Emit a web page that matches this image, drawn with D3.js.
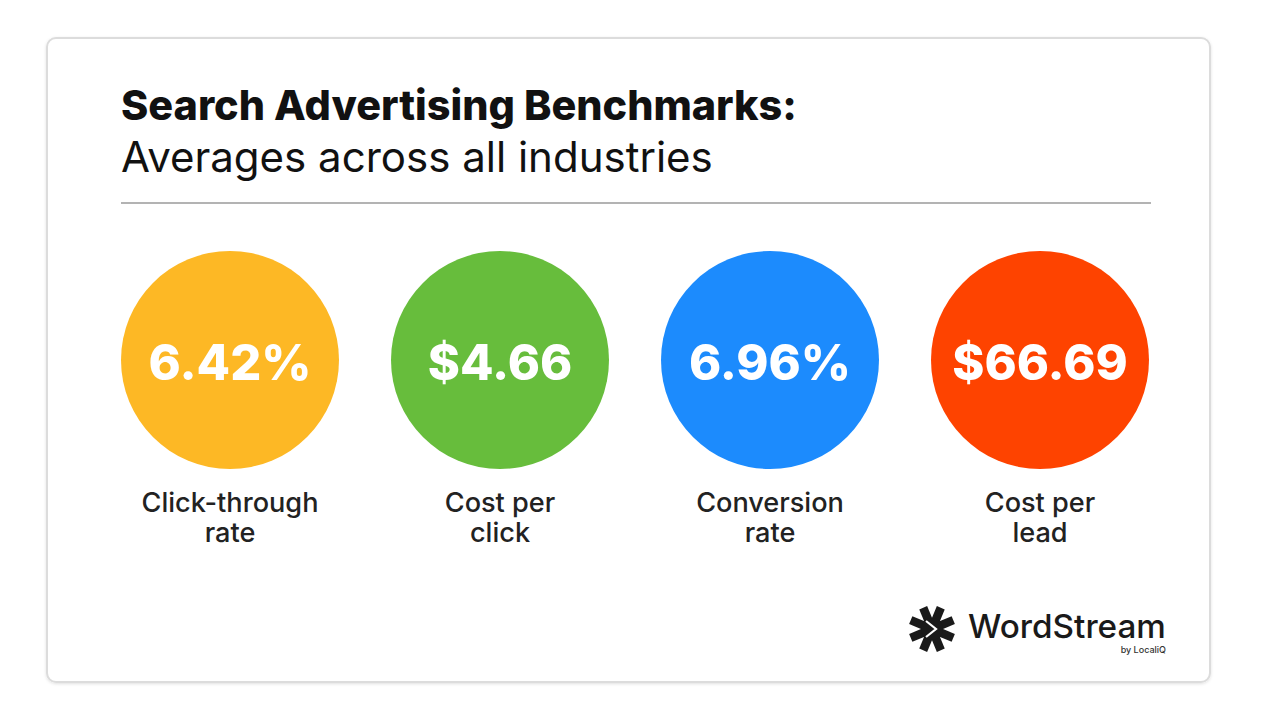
<!DOCTYPE html>
<html>
<meta charset="utf-8">
<head>
    <script src="https://d3js.org/d3.v7.min.js"></script>
</head>

<style>
  body { margin: 0; background: #fff; }
  svg text { font-family: Inter, "Noto Sans", sans-serif; }
  .title { font-weight: 800; fill: #111; }
  .subtitle { font-weight: 400; fill: #111; }
  .value { font-weight: 800; fill: #fff; text-anchor: middle; }
  .label { font-weight: 500; fill: #222; text-anchor: middle; }
</style>

<body>
<script>
    // chart data
    var metrics = ["Click-through rate", "Cost per click", "Conversion rate", "Cost per lead"];
    var labelLines = [["Click-through", "rate"], ["Cost per", "click"], ["Conversion", "rate"], ["Cost per", "lead"]];
    var values = [6.42, 4.66, 6.96, 66.69];
    var units = ["%", "$", "%", "$"];
    var colors = ["#FDB825", "#67BD3C", "#1C8BFD", "#FE4300"];

    var width = 1276, height = 715;

    var svg = d3.select("body").append("svg")
        .attr("width", width)
        .attr("height", height);

    var defs = svg.append("defs");
    var shadow = defs.append("filter").attr("id", "shadow")
        .attr("x", "-5%").attr("y", "-5%").attr("width", "110%").attr("height", "110%");
    shadow.append("feDropShadow")
        .attr("dx", 0).attr("dy", 1).attr("stdDeviation", 1.5)
        .attr("flood-color", "#000").attr("flood-opacity", 0.12);

    // card
    svg.append("rect")
        .attr("x", 47).attr("y", 38)
        .attr("width", 1163).attr("height", 644)
        .attr("rx", 9)
        .attr("fill", "#fff")
        .attr("stroke", "#dcdcdc")
        .attr("stroke-width", 2)
        .attr("filter", "url(#shadow)");

    // shrink/grow a text to a given width
    function fit(sel, w) {
        var size = parseFloat(sel.style("font-size"));
        var len = sel.node().getComputedTextLength();
        sel.style("font-size", (size * w / len) + "px");
    }

    var title = svg.append("text").attr("class", "title")
        .attr("x", 121).attr("y", 120)
        .style("font-size", "36px")
        .text("Search Advertising Benchmarks:");
    fit(title, 676);

    var subtitle = svg.append("text").attr("class", "subtitle")
        .attr("x", 121).attr("y", 172)
        .style("font-size", "36px")
        .text("Averages across all industries");
    fit(subtitle, 592);

    svg.append("line")
        .attr("x1", 121).attr("x2", 1151)
        .attr("y1", 203).attr("y2", 203)
        .attr("stroke", "#9a9a9a")
        .attr("stroke-width", 1.6);

    var x = d3.scalePoint()
        .domain(metrics)
        .range([230, 1040]);

    var r = 109, cy = 360;
    var fmt = d3.format(".2f");

    var items = svg.append("g").selectAll("g")
        .data(metrics)
        .enter().append("g")
        .attr("transform", function(d) { return "translate(" + x(d) + ",0)"; });

    items.append("circle")
        .attr("cy", cy)
        .attr("r", r)
        .attr("fill", function(d, i) { return colors[i]; });

    items.append("text")
        .attr("class", "value")
        .attr("y", cy + 20)
        .style("font-size", "52px")
        .text(function(d, i) {
            return units[i] == "$" ? "$" + fmt(values[i]) : fmt(values[i]) + "%";
        });

    items.selectAll(".label")
        .data(function(d, i) { return labelLines[i]; })
        .enter().append("text")
        .attr("class", "label")
        .attr("y", function(d, j) { return 512 + j * 30; })
        .style("font-size", "25px")
        .text(function(d) { return d; });

    // value text: match "6.42%" width to ~163px, use same size for all
    var first = items.select(".value").filter(function(d, i) { return i == 0; });
    fit(first, 163);
    var vsize = first.style("font-size");
    items.selectAll(".value").style("font-size", vsize);

    var firstLabel = items.selectAll(".label").filter(function(d) { return d == "Click-through"; });
    fit(firstLabel, 177);
    items.selectAll(".label").style("font-size", firstLabel.style("font-size"));

    // logo
    var logo = svg.append("g").attr("transform", "translate(932,629)");
    d3.range(8).forEach(function(k) {
        logo.append("line")
            .attr("x1", 0).attr("y1", 0)
            .attr("x2", 0).attr("y2", -23)
            .attr("stroke", "#1a1a1a")
            .attr("stroke-width", 8.5)
            .attr("stroke-linecap", "butt")
            .attr("transform", "rotate(" + (k * 45 + 22.5) + ")");
    });
    logo.append("circle").attr("r", 11).attr("fill", "#1a1a1a");
    logo.append("path")
        .attr("d", "M-6,-8 L4,0 L-6,8")
        .attr("fill", "none")
        .attr("stroke", "#fff")
        .attr("stroke-width", 2.2);

    var ws = svg.append("text")
        .attr("x", 968).attr("y", 638)
        .style("font-size", "31px")
        .style("font-weight", 500)
        .attr("fill", "#1a1a1a")
        .text("WordStream");
    fit(ws, 198);

    svg.append("text")
        .attr("x", 1166).attr("y", 653)
        .attr("text-anchor", "end")
        .style("font-size", "9px")
        .style("font-weight", 500)
        .attr("fill", "#333")
        .text("by LocaliQ");
</script>
</body>
</html>
